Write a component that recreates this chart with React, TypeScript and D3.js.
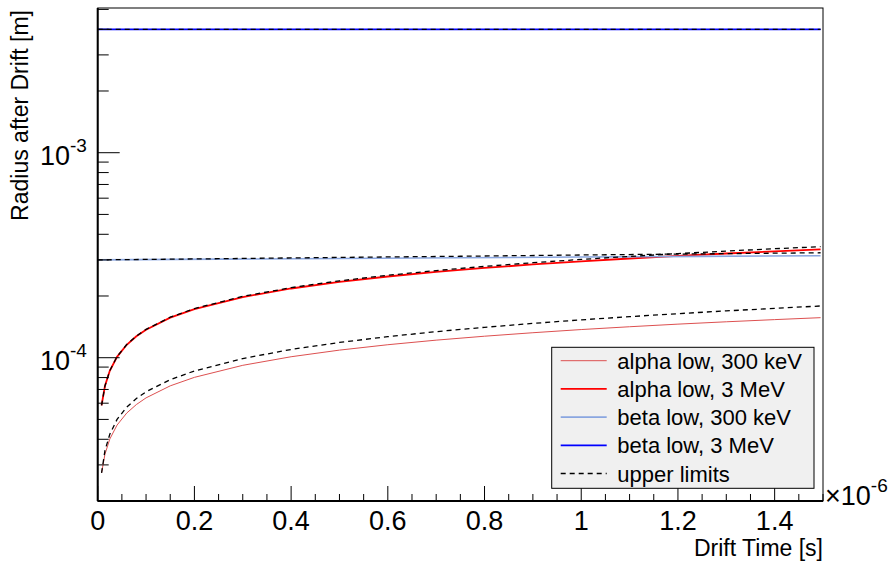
import React from "react";
import * as d3 from "d3";

const W = 894;
const H = 563;

// drift times (in units of 1e-6 s)
const tAlpha = [0.008, 0.015, 0.025, 0.04, 0.06, 0.08, 0.1, 0.15, 0.2, 0.3, 0.4, 0.5, 0.6, 0.7, 0.8, 0.9, 1.0, 1.1, 1.2, 1.3, 1.4, 1.495];
// radii (in units of 1e-5 m)
const alpha300keV = [2.74, 3.38, 4.01, 4.69, 5.37, 5.91, 6.37, 7.29, 8.02, 9.18, 10.11, 10.89, 11.57, 12.18, 12.73, 13.24, 13.72, 14.16, 14.58, 14.97, 15.34, 15.68];
const alpha300keVUpper = [2.74, 3.52, 4.23, 5.0, 5.74, 6.32, 6.82, 7.81, 8.62, 9.91, 10.97, 11.87, 12.67, 13.4, 14.07, 14.7, 15.3, 15.86, 16.4, 16.92, 17.41, 17.88];
const alpha3MeV = [5.85, 7.28, 8.63, 10.1, 11.56, 12.72, 13.7, 15.69, 17.27, 19.77, 21.76, 23.44, 24.9, 26.22, 27.41, 28.51, 29.53, 30.48, 31.38, 32.23, 33.03, 33.76];
const alpha3MeVUpper = [5.85, 7.28, 8.64, 10.12, 11.59, 12.76, 13.75, 15.76, 17.37, 19.92, 21.97, 23.71, 25.24, 26.62, 27.89, 29.07, 30.17, 31.2, 32.19, 33.13, 34.01, 34.8];

const tBeta = [0, 0.25, 0.5, 0.75, 1.0, 1.25, 1.495];
const beta300keV = [30.0, 30.25, 30.49, 30.74, 30.97, 31.21, 31.45];
const beta300keVUpper = [30.0, 30.4, 30.85, 31.25, 31.7, 32.1, 32.5];
const beta3MeV = [400, 400, 400, 400, 400, 400, 400];
const beta3MeVUpper = [400, 400, 400, 400, 400, 400, 400];

const xTickLabels = ["0", "0.2", "0.4", "0.6", "0.8", "1", "1.2", "1.4"];
const xTickValues = [0, 0.2, 0.4, 0.6, 0.8, 1.0, 1.2, 1.4];
const yMajorExp = [-3, -4];
const legendLabels = ["alpha low, 300 keV", "alpha low, 3 MeV", "beta low, 300 keV", "beta low, 3 MeV", "upper limits"];

const FONT = "'Liberation Sans', Arial, Helvetica, sans-serif";

export default function App() {
  const left = 97.7, right = 823, top = 8, bottom = 501;
  const x = d3.scaleLinear().domain([0, 1.5e-6]).range([left, right]);
  const y = d3.scaleLog().domain([2e-5, 5.08e-3]).range([bottom, top]);

  const line = (ts: number[], rs: number[], tScale: number, rScale: number) =>
    d3.line<number>()
      .x((_, i) => x(ts[i] * tScale))
      .y((_, i) => y(rs[i] * rScale))(rs) || "";

  const series = [
    { d: line(tAlpha, alpha300keV, 1e-6, 1e-5), color: "#dd5050", w: 1, dash: "" },
    { d: line(tAlpha, alpha3MeV, 1e-6, 1e-5), color: "#ff0000", w: 1.8, dash: "" },
    { d: line(tBeta, beta300keV, 1e-6, 1e-5), color: "#8aa6e0", w: 1.6, dash: "" },
    { d: line(tBeta, beta3MeV, 1e-6, 1e-5), color: "#0000ff", w: 1.8, dash: "" },
  ];
  const uppers = [
    line(tAlpha, alpha300keVUpper, 1e-6, 1e-5),
    line(tAlpha, alpha3MeVUpper, 1e-6, 1e-5),
    line(tBeta, beta300keVUpper, 1e-6, 1e-5),
    line(tBeta, beta3MeVUpper, 1e-6, 1e-5),
  ];

  const xMinor = d3.range(0, 31).map((i) => i * 0.05).filter((v) => Math.abs(v / 0.2 - Math.round(v / 0.2)) > 1e-6);
  const yMinor: number[] = [];
  for (const e of [-5, -4, -3]) {
    for (let m = 2; m <= 9; m++) {
      const v = m * Math.pow(10, e);
      if (v >= 2e-5 && v <= 5.08e-3) yMinor.push(v);
    }
  }

  const legX = 551.7, legY = 347.3, legW = 262.3, legH = 141;
  const rowY = (i: number) => 360.7 + i * 28.2;
  const legendStyles = [
    { color: "#dd5050", w: 1, dash: "" },
    { color: "#ff0000", w: 1.8, dash: "" },
    { color: "#8aa6e0", w: 1.6, dash: "" },
    { color: "#0000ff", w: 1.8, dash: "" },
    { color: "#000000", w: 1.3, dash: "5,4" },
  ];

  return (
    <svg width={W} height={H} style={{ position: "absolute", left: 0, top: 0, background: "#fff" }} fontFamily={FONT}>
      <rect x={0} y={0} width={W} height={H} fill="#ffffff" />
      {series.map((s, i) => (
        <path key={"s" + i} d={s.d} fill="none" stroke={s.color} strokeWidth={s.w} />
      ))}
      {uppers.map((d, i) => (
        <path key={"u" + i} d={d} fill="none" stroke="#000" strokeWidth={1.3} strokeDasharray="5,4" />
      ))}
      <rect x={left} y={top} width={right - left} height={bottom - top} fill="none" stroke="#000" strokeWidth={1} />
      <line x1={left} x2={left} y1={top} y2={bottom} stroke="#000" strokeWidth={2} />
      <line x1={left} x2={right} y1={bottom} y2={bottom} stroke="#000" strokeWidth={2} />
      {xTickValues.map((v, i) => (
        <g key={"xt" + i}>
          <line x1={x(v * 1e-6)} x2={x(v * 1e-6)} y1={bottom} y2={bottom - 15} stroke="#000" strokeWidth={1} />
          <text x={x(v * 1e-6)} y={529.5} fontSize={27} textAnchor="middle" fill="#000">{xTickLabels[i]}</text>
        </g>
      ))}
      {xMinor.map((v, i) => (
        <line key={"xm" + i} x1={x(v * 1e-6)} x2={x(v * 1e-6)} y1={bottom} y2={bottom - 7} stroke="#000" strokeWidth={1} />
      ))}
      <text x={825} y={505} fontSize={27} fill="#000">
        ×10
        <tspan dy={-13} fontSize={19}>-6</tspan>
      </text>
      {yMinor.map((v, i) => (
        <line key={"ym" + i} x1={left} x2={left + 11} y1={y(v)} y2={y(v)} stroke="#000" strokeWidth={1} />
      ))}
      {yMajorExp.map((e) => (
        <g key={"ye" + e}>
          <line x1={left} x2={left + 22} y1={y(Math.pow(10, e))} y2={y(Math.pow(10, e))} stroke="#000" strokeWidth={1} />
          <text x={40} y={y(Math.pow(10, e)) + 12.5} fontSize={27} fill="#000">
            10
            <tspan dy={-13} fontSize={19}>{"-" + Math.abs(e)}</tspan>
          </text>
        </g>
      ))}
      <text x={right} y={556} fontSize={23} textAnchor="end" fill="#000">Drift Time [s]</text>
      <text transform={`translate(28, ${top + 2}) rotate(-90)`} fontSize={23} textAnchor="end" fill="#000">Radius after Drift [m]</text>
      <rect x={legX} y={legY} width={legW} height={legH} fill="#f0f0f0" stroke="#000" strokeWidth={1} />
      {legendLabels.map((lab, i) => (
        <g key={"lg" + i}>
          <line x1={560.7} x2={606.7} y1={rowY(i)} y2={rowY(i)} stroke={legendStyles[i].color} strokeWidth={legendStyles[i].w} strokeDasharray={legendStyles[i].dash} />
          <text x={617.3} y={rowY(i) + 8} fontSize={22} fill="#000">{lab}</text>
        </g>
      ))}
    </svg>
  );
}
